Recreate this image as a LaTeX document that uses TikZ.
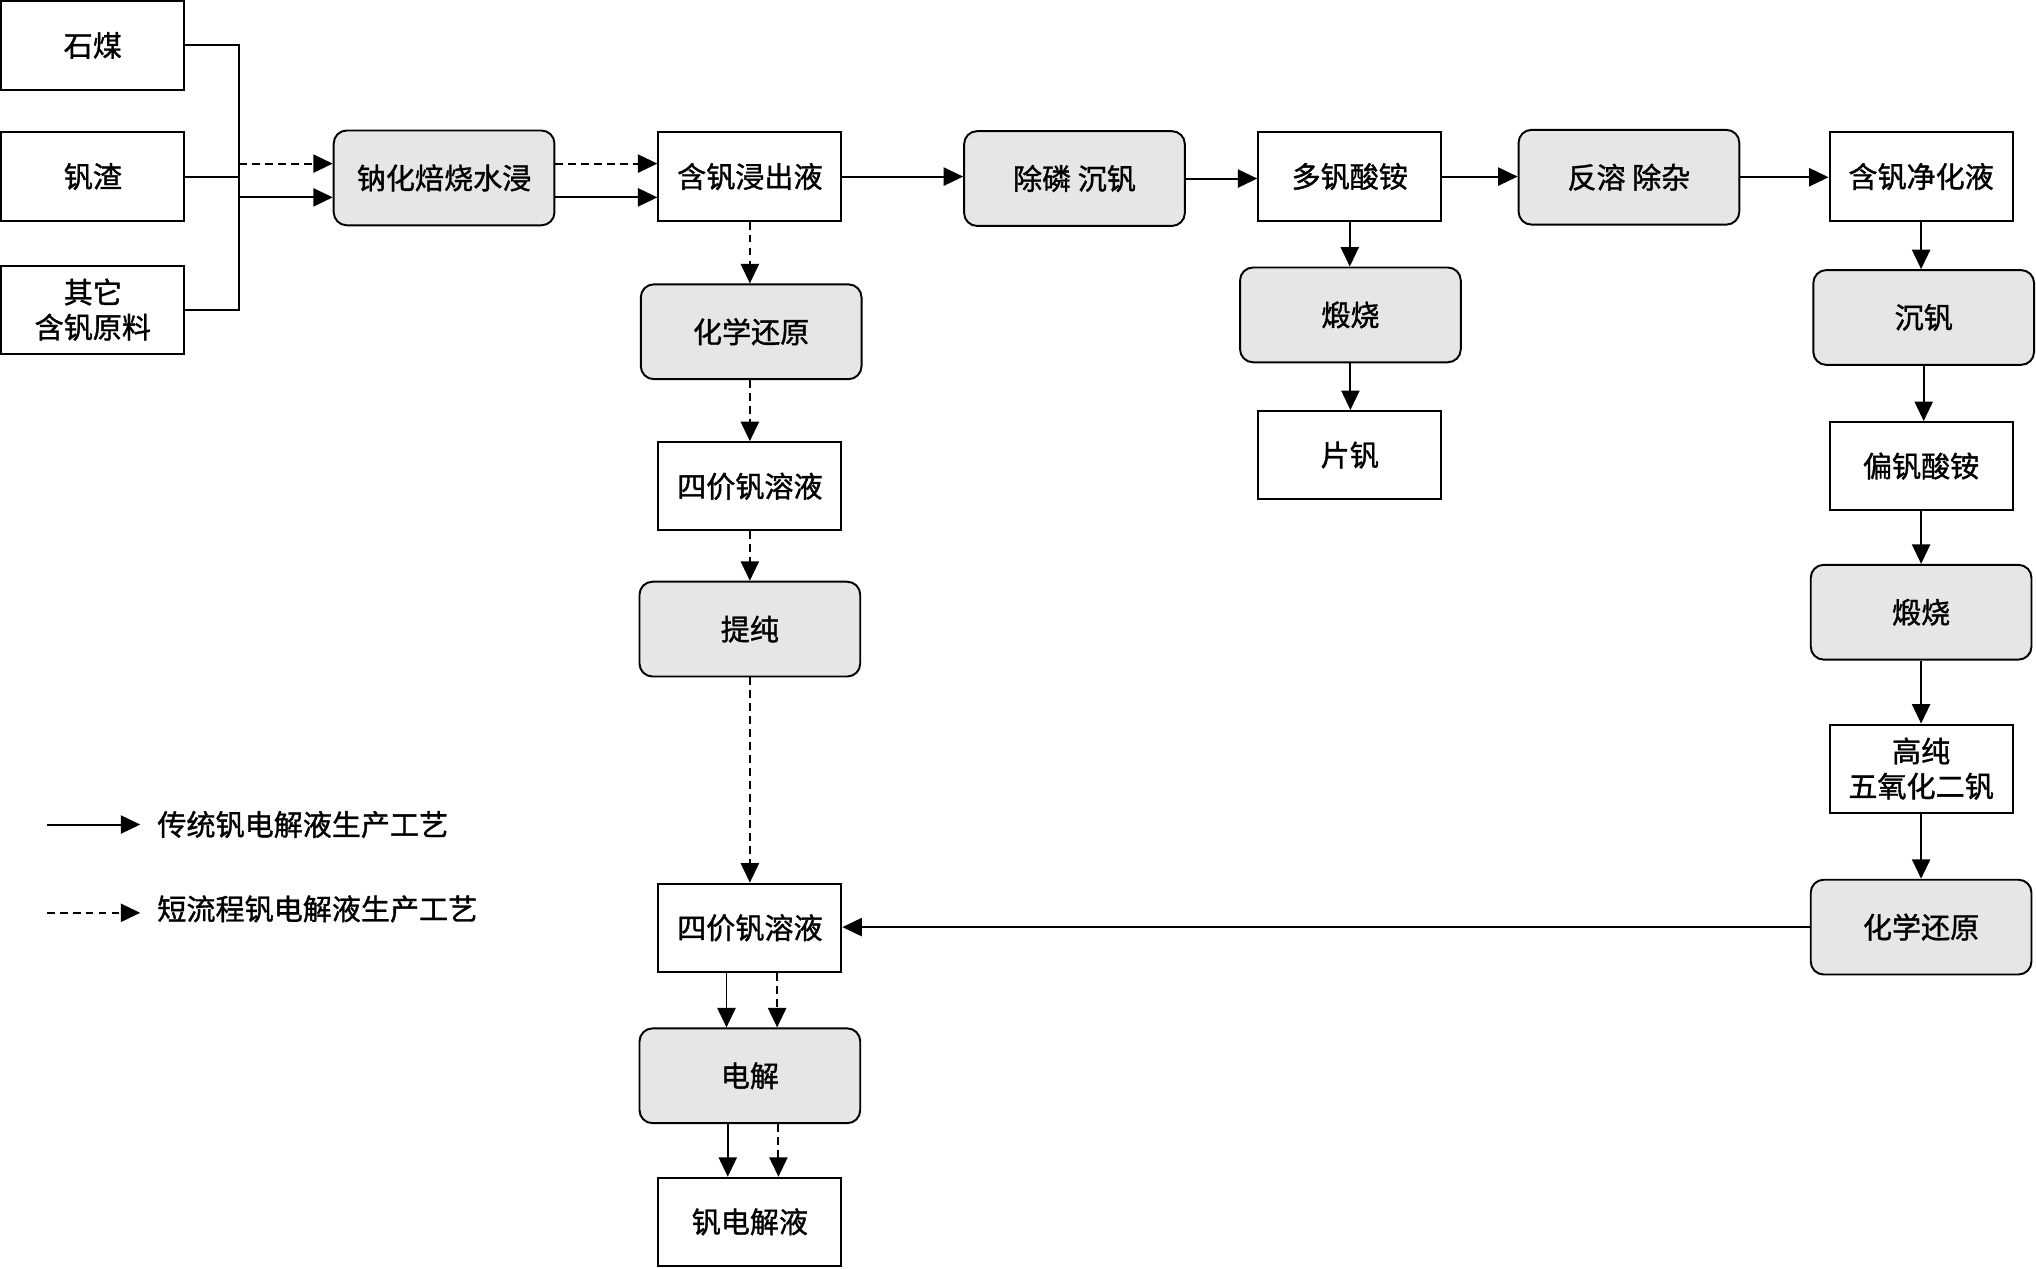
\documentclass[tikz,border=0pt]{standalone}
\usepackage{fontspec}
\setmainfont{Noto Sans CJK SC}[FakeBold=1.2]
\usetikzlibrary{arrows.meta}
\definecolor{procgray}{HTML}{E6E6E6}
\begin{document}
\begin{tikzpicture}[x=1pt,y=-1pt,
  base/.style={draw=black, line width=1.5pt, align=center, inner sep=0pt, font=\fontsize{22.4}{27}\selectfont},
  prodbox/.style={base, minimum width=141pt, minimum height=68pt},
  procbox/.style={base, fill=procgray, rounded corners=10pt, minimum width=170pt, minimum height=73pt},
  conn/.style={line width=1.5pt},
  arr/.style={conn, -{Triangle[length=15pt,width=14pt]}},
  darr/.style={arr, dash pattern=on 6pt off 4pt},
  lbl/.style={anchor=west, inner sep=0pt, font=\fontsize{22.4}{27}\selectfont}]
\useasboundingbox (0,0) rectangle (1568,977);

\node[prodbox] (shimei) at (71.5,35) {石煤};
\node[prodbox] (zhazha) at (71.5,136) {钒渣};
\node[prodbox] (qita) at (71.5,238.5) {其它\\含钒原料};
\node[procbox] (nahua) at (342,137) {钠化焙烧水浸};
\node[prodbox] (jinchu) at (577.5,136) {含钒浸出液};
\node[procbox] (chulin) at (827.5,137.5) {除磷 沉钒};
\node[prodbox] (duofan) at (1039.5,136) {多钒酸铵};
\node[procbox] (fanrong) at (1254.5,136.5) {反溶 除杂};
\node[prodbox] (jinghua) at (1479.5,136) {含钒净化液};
\node[procbox] (chenfan) at (1481.5,244.5) {沉钒};
\node[prodbox] (pianfan) at (1479.5,359) {偏钒酸铵};
\node[procbox] (duanR) at (1479.5,471.5) {煅烧};
\node[prodbox] (gaochun) at (1479.5,592) {高纯\\五氧化二钒};
\node[procbox] (huanR) at (1479.5,714) {化学还原};
\node[procbox] (duanM) at (1040,242.5) {煅烧};
\node[prodbox] (pian) at (1039.5,350.5) {片钒};
\node[procbox] (huanL) at (578.5,255.5) {化学还原};
\node[prodbox] (sj1) at (577.5,374.5) {四价钒溶液};
\node[procbox] (tichun) at (577.5,484.5) {提纯};
\node[prodbox] (sj2) at (577.5,714.5) {四价钒溶液};
\node[procbox] (dianjie) at (577.5,828.5) {电解};
\node[prodbox] (dianjieye) at (577.5,941) {钒电解液};

% input bus
\coordinate (bus) at (184,137);
\draw[conn] (shimei.east) -| (bus) |- (qita.east);
\draw[conn] (zhazha.east) -- (zhazha.east -| bus);
\draw[darr] ([yshift=11pt]nahua.west -| bus) -- ([yshift=11pt]nahua.west);
\draw[arr] ([yshift=-15pt]nahua.west -| bus) -- ([yshift=-15pt]nahua.west);
\draw[darr] ([yshift=11pt]nahua.east) -- ([yshift=11pt]nahua.east -| jinchu.west);
\draw[arr] ([yshift=-15pt]nahua.east) -- ([yshift=-15pt]nahua.east -| jinchu.west);

% top row
\draw[arr] (jinchu.east) -- (jinchu.east -| chulin.west);
\draw[arr] (chulin.east) -- (chulin.east -| duofan.west);
\draw[arr] (duofan.east) -- (duofan.east -| fanrong.west);
\draw[arr] (fanrong.east) -- (fanrong.east -| jinghua.west);

% right column
\draw[arr] (jinghua.south) -- (jinghua.south |- chenfan.north);
\draw[arr] (chenfan.south) -- (chenfan.south |- pianfan.north);
\draw[arr] (pianfan.south) -- (pianfan.south |- duanR.north);
\draw[arr] (duanR.south) -- (duanR.south |- gaochun.north);
\draw[arr] (gaochun.south) -- (gaochun.south |- huanR.north);
\draw[arr] (huanR.west) -- (huanR.west -| sj2.east);

% middle column
\draw[arr] (duofan.south) -- (duofan.south |- duanM.north);
\draw[arr] (duanM.south) -- (duanM.south |- pian.north);

% left column
\draw[darr] (jinchu.south) -- (jinchu.south |- huanL.north);
\draw[darr] (sj1.north |- huanL.south) -- (sj1.north);
\draw[darr] (sj1.south) -- (sj1.south |- tichun.north);
\draw[darr] (tichun.south) -- (tichun.south |- sj2.north);
\draw[arr] ([xshift=-18pt]sj2.south) -- ([xshift=-18pt]sj2.south |- dianjie.north);
\draw[darr] ([xshift=21pt]sj2.south) -- ([xshift=21pt]sj2.south |- dianjie.north);
\draw[arr] ([xshift=-17pt]dianjie.south) -- ([xshift=-17pt]dianjie.south |- dianjieye.north);
\draw[darr] ([xshift=22pt]dianjie.south) -- ([xshift=22pt]dianjie.south |- dianjieye.north);

% legend
\coordinate (la1) at (36,635);
\coordinate (la2) at (108,635);
\draw[arr] (la1) -- (la2);
\node[lbl] (lt1) at (121,635) {传统钒电解液生产工艺};
\coordinate (lb1) at (36,703);
\coordinate (lb2) at (108,703);
\draw[darr] (lb1) -- (lb2);
\node[lbl] (lt2) at (121,700) {短流程钒电解液生产工艺};
\end{tikzpicture}
\end{document}
